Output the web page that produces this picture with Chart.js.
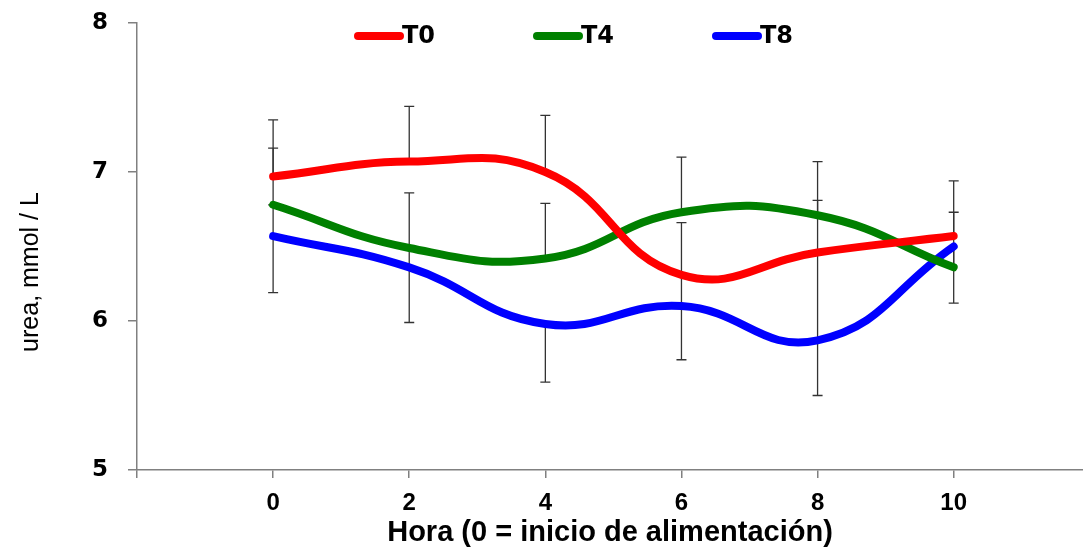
<!DOCTYPE html>
<html>
<head>
<meta charset="utf-8">
<script src="https://cdn.jsdelivr.net/npm/chart.js@4/dist/chart.umd.min.js"></script>
<style>
  html, body { margin: 0; padding: 0; background: #fff; }
  #wrap { width: 1083px; height: 547px; }
</style>
</head>
<body>
<div id="wrap"><canvas id="chart" width="1083" height="547"></canvas></div>
<script>
// hora desde el inicio de la alimentación
const hours = [0, 2, 4, 6, 8, 10];
const xTicks = [-2, 0, 2, 4, 6, 8, 10];
const yTicks = [5, 6, 7, 8];

// urea, mmol / L
const t0 = [6.97, 7.07, 7.00, 6.31, 6.46, 6.57];
const t4 = [6.78, 6.49, 6.42, 6.73, 6.71, 6.36];
const t8 = [6.57, 6.36, 5.98, 6.10, 5.87, 6.50];

// barras de error (hacia arriba / hacia abajo)
const t0Up   = [0.38, 0.37, 0.38, 0.35, 0.35, 0.37];
const t0Down = [0, 0, 0, 0, 0, 0];
const t4Up   = [0.38, 0.37, 0.37, 0.37, 0.36, 0.37];
const t4Down = [0, 0, 0, 0, 0, 0];
const t8Up   = [0.21, 0.13, 0, 0.21, 0.59, 0];
const t8Down = [0.38, 0.37, 0.39, 0.36, 0.37, 0.38];

const SANS = '"Liberation Sans", Arial, sans-serif';
const ROUND = '"DejaVu Sans", "Noto Sans", sans-serif';

function series(label, values, color, up, down) {
  return {
    label, data: hours.map((h, i) => ({ x: h, y: values[i] })),
    borderColor: color, backgroundColor: color, borderWidth: 8,
    borderCapStyle: 'round', borderJoinStyle: 'round',
    pointRadius: 0, tension: 0.45, fill: false,
    errUp: up, errDown: down
  };
}

const errorBars = {
  id: 'errorBars',
  beforeDatasetsDraw(chart) {
    const { ctx, scales: { x, y } } = chart;
    ctx.save();
    ctx.strokeStyle = '#333';
    ctx.lineWidth = 1.3;
    chart.data.datasets.forEach(ds => {
      ds.data.forEach((p, i) => {
        const px = x.getPixelForValue(p.x);
        [[ds.errUp[i], 1], [ds.errDown[i], -1]].forEach(([e, s]) => {
          if (!e) return;
          const y0 = y.getPixelForValue(p.y), y1 = y.getPixelForValue(p.y + s * e);
          ctx.beginPath();
          ctx.moveTo(px, y0); ctx.lineTo(px, y1);
          ctx.moveTo(px - 5, y1); ctx.lineTo(px + 5, y1);
          ctx.stroke();
        });
      });
    });
    ctx.restore();
  }
};

const topLegend = {
  id: 'topLegend',
  afterDraw(chart) {
    const ctx = chart.ctx;
    ctx.save();
    ctx.font = 'bold 24px ' + ROUND;
    ctx.textBaseline = 'middle';
    chart.data.datasets.forEach((ds, i) => {
      const x0 = 358 + i * 179, yy = 36;
      ctx.strokeStyle = ds.borderColor;
      ctx.lineWidth = 8;
      ctx.lineCap = 'round';
      ctx.beginPath(); ctx.moveTo(x0, yy); ctx.lineTo(x0 + 42, yy); ctx.stroke();
      ctx.fillStyle = '#000';
      ctx.fillText(ds.label, x0 + 44, yy + 1);
    });
    // título del eje y
    ctx.translate(38, 272);
    ctx.rotate(-Math.PI / 2);
    ctx.font = '25px ' + SANS;
    ctx.textAlign = 'center';
    ctx.textBaseline = 'alphabetic';
    ctx.fillText('urea, mmol / L', 0, 0);
    ctx.restore();
  }
};

new Chart(document.getElementById('chart').getContext('2d'), {
  type: 'line',
  data: {
    datasets: [
      series('T0', t0, '#ff0000', t0Up, t0Down),
      series('T4', t4, '#008000', t4Up, t4Down),
      series('T8', t8, '#0000ff', t8Up, t8Down)
    ]
  },
  options: {
    responsive: false, animation: false,
    layout: { padding: { top: 23, right: 0, left: 0, bottom: 0 } },
    plugins: { legend: { display: false }, tooltip: { enabled: false } },
    scales: {
      x: {
        type: 'linear', min: -2, max: 11.9,
        afterBuildTicks: s => { s.ticks = xTicks.map(v => ({ value: v })); },
        afterFit: s => { s.height = 77; s.paddingLeft = 0; s.paddingRight = 0; },
        ticks: {
          callback: v => (v < 0 ? '' : v), color: '#000', padding: 11,
          font: { family: SANS, size: 24, weight: 'bold' }, maxRotation: 0
        },
        grid: { drawOnChartArea: false, tickLength: 8, color: '#808080', lineWidth: 1.5 },
        border: { color: '#808080', width: 1.5 },
        title: {
          display: true, text: 'Hora (0 = inicio de alimentación)', color: '#000',
          font: { family: SANS, size: 29, weight: 'bold' }, padding: { top: 2, bottom: -3 }
        }
      },
      y: {
        min: 5, max: 8,
        afterBuildTicks: s => { s.ticks = yTicks.map(v => ({ value: v })); },
        afterFit: s => { s.width = 137; s.paddingTop = 0; s.paddingBottom = 0; },
        ticks: { color: '#000', padding: 20, font: { family: ROUND, size: 23, weight: 'bold' } },
        grid: { drawOnChartArea: false, tickLength: 9, color: '#808080', lineWidth: 1.5 },
        border: { color: '#808080', width: 1.5 }
      }
    }
  },
  plugins: [errorBars, topLegend]
});
</script>
</body>
</html>
